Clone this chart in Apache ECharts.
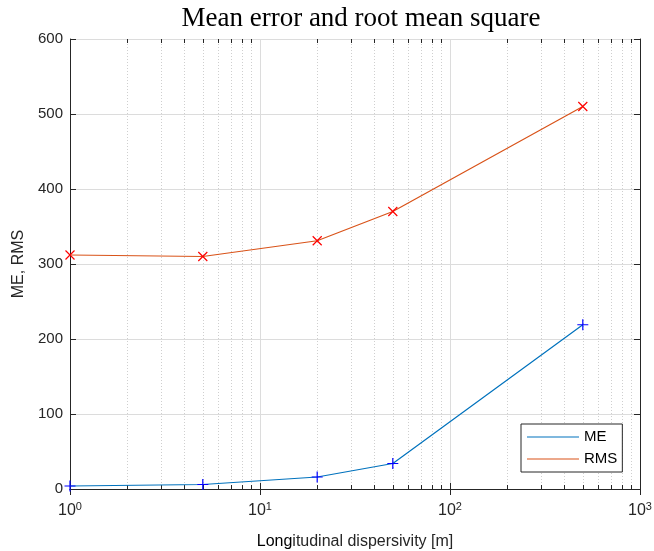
<!DOCTYPE html>
<html>
<head>
<meta charset="utf-8">
<script src="https://cdn.jsdelivr.net/npm/echarts@6/dist/echarts.min.js"></script>
<style>html,body{margin:0;padding:0;background:#fff}#c{width:654px;height:551px}</style>
</head>
<body>
<div id="c"></div>
<script>
// ---- data ----
const xValues = [1, 5, 20, 50, 500];
const meValues = [4, 6, 16, 34, 219];
const rmsValues = [312, 310, 331, 370, 510];
const seriesNames = ['ME', 'RMS'];
const yTicks = [0, 100, 200, 300, 400, 500, 600];
const xMinorTicks = [2,3,4,5,6,7,8,9,20,30,40,50,60,70,80,90,200,300,400,500,600,700,800,900];
const titleText = 'Mean error and root mean square';
const yAxisTitle = 'ME, RMS';
const xAxisTitleA = 'Long';
const xAxisTitleB = 'itudinal dispersivity [m]';

const axisColor = '#262626';
const font = '"Liberation Sans", Arial, sans-serif';

const chart = echarts.init(document.getElementById('c'), null, {renderer: 'canvas'});

const plusSym = 'path://M0,5L10,5M5,0L5,10';
const crossSym = 'path://M0,0L10,10M10,0L0,10';

function pairs(ys) { return xValues.map((x, i) => [x, ys[i]]); }

const option = {
  animation: false,
  backgroundColor: '#fff',
  title: {
    text: titleText,
    left: 356, textAlign: 'center',
    top: 0,
    textStyle: {fontFamily: '"Liberation Serif", "Times New Roman", serif', fontSize: 27, fontWeight: 'normal', color: '#000'}
  },
  grid: {left: 70, right: 14, top: 39, bottom: 62, containLabel: false, outerBoundsMode: 'none'},
  legend: {
    orient: 'vertical',
    left: 521, top: 424,
    padding: [4, 5, 4, 6],
    itemGap: 4,
    itemWidth: 52,
    itemHeight: 1.2,
    icon: 'rect',
    backgroundColor: '#fff',
    borderColor: axisColor,
    borderWidth: 1,
    textStyle: {fontFamily: font, fontSize: 15, color: '#000', lineHeight: 18},
    data: [
      {name: seriesNames[0], itemStyle: {color: '#0072BD', borderWidth: 0, borderColor: '#0072BD'}},
      {name: seriesNames[1], itemStyle: {color: '#D95319', borderWidth: 0, borderColor: '#D95319'}}
    ]
  },
  xAxis: [{
    type: 'log', logBase: 10, min: 1, max: 1000,
    position: 'bottom',
    name: '{a|' + xAxisTitleA + '}{b|' + xAxisTitleB + '}',
    nameLocation: 'middle', nameGap: 45,
    nameTextStyle: {rich: {
      a: {fontFamily: font, fontSize: 16, color: '#000'},
      b: {fontFamily: font, fontSize: 16, color: axisColor}
    }},
    axisLine: {lineStyle: {color: axisColor, width: 1}},
    axisTick: {inside: true, length: 6, lineStyle: {color: axisColor}},
    axisLabel: {
      margin: 12,
      formatter: v => '10{s|' + Math.round(Math.log10(v)) + '}',
      color: axisColor, fontFamily: font, fontSize: 16,
      rich: {s: {fontFamily: font, fontSize: 11, color: axisColor, padding: [0, 0, 9, 0]}}
    },
    splitLine: {show: true, lineStyle: {color: '#dcdcdc', width: 1}}
  }, {
    type: 'log', logBase: 10, min: 1, max: 1000,
    position: 'top',
    axisLine: {lineStyle: {color: axisColor, width: 1}},
    axisTick: {inside: true, length: 6, lineStyle: {color: axisColor}},
    axisLabel: {show: false},
    splitLine: {show: false}
  }],
  yAxis: [{
    type: 'value', min: 0, max: 600, interval: 100,
    position: 'left',
    name: yAxisTitle, nameLocation: 'middle', nameGap: 38, nameRotate: 90,
    nameTextStyle: {fontFamily: font, fontSize: 16, color: axisColor},
    axisLine: {show: true, lineStyle: {color: axisColor, width: 1}},
    axisTick: {show: true, inside: true, length: 6, lineStyle: {color: axisColor}},
    axisLabel: {margin: 7, color: axisColor, fontFamily: font, fontSize: 15,
      formatter: v => yTicks.indexOf(v) >= 0 ? String(v) : ''},
    splitLine: {show: true, lineStyle: {color: '#dcdcdc', width: 1}}
  }, {
    type: 'value', min: 0, max: 600, interval: 100,
    position: 'right',
    axisLine: {show: true, lineStyle: {color: axisColor, width: 1}},
    axisTick: {show: true, inside: true, length: 6, lineStyle: {color: axisColor}},
    axisLabel: {show: false},
    splitLine: {show: false}
  }],
  series: [{
    type: 'custom',
    name: 'minor',
    xAxisIndex: 0, yAxisIndex: 0,
    silent: true, z: 1,
    clip: false,
    renderItem: function (params, api) {
      const x = api.value(0);
      const b = api.coord([x, 0]);
      const t = api.coord([x, 600]);
      const px = Math.round(b[0]) + 0.5;
      return {type: 'group', children: [
        {type: 'line', shape: {x1: px, y1: b[1], x2: px, y2: t[1]},
          style: {stroke: '#cfcfcf', lineWidth: 1, lineDash: [1, 2]}},
        {type: 'line', shape: {x1: px, y1: b[1], x2: px, y2: b[1] - 4},
          style: {stroke: axisColor, lineWidth: 1}},
        {type: 'line', shape: {x1: px, y1: t[1], x2: px, y2: t[1] + 4},
          style: {stroke: axisColor, lineWidth: 1}}
      ]};
    },
    data: xMinorTicks.map(v => [v, 0])
  }, {
    type: 'line',
    name: seriesNames[0],
    data: pairs(meValues),
    z: 3,
    symbol: plusSym, symbolSize: 11,
    lineStyle: {color: '#0072BD', width: 1.2},
    itemStyle: {color: 'none', borderColor: '#0000FF', borderWidth: 1.2},
    emphasis: {disabled: true}
  }, {
    type: 'line',
    name: seriesNames[1],
    data: pairs(rmsValues),
    z: 3,
    symbol: crossSym, symbolSize: 9,
    lineStyle: {color: '#D95319', width: 1.2},
    itemStyle: {color: 'none', borderColor: '#FF0000', borderWidth: 1.2},
    emphasis: {disabled: true}
  }]
};
chart.setOption(option);
</script>
</body>
</html>
